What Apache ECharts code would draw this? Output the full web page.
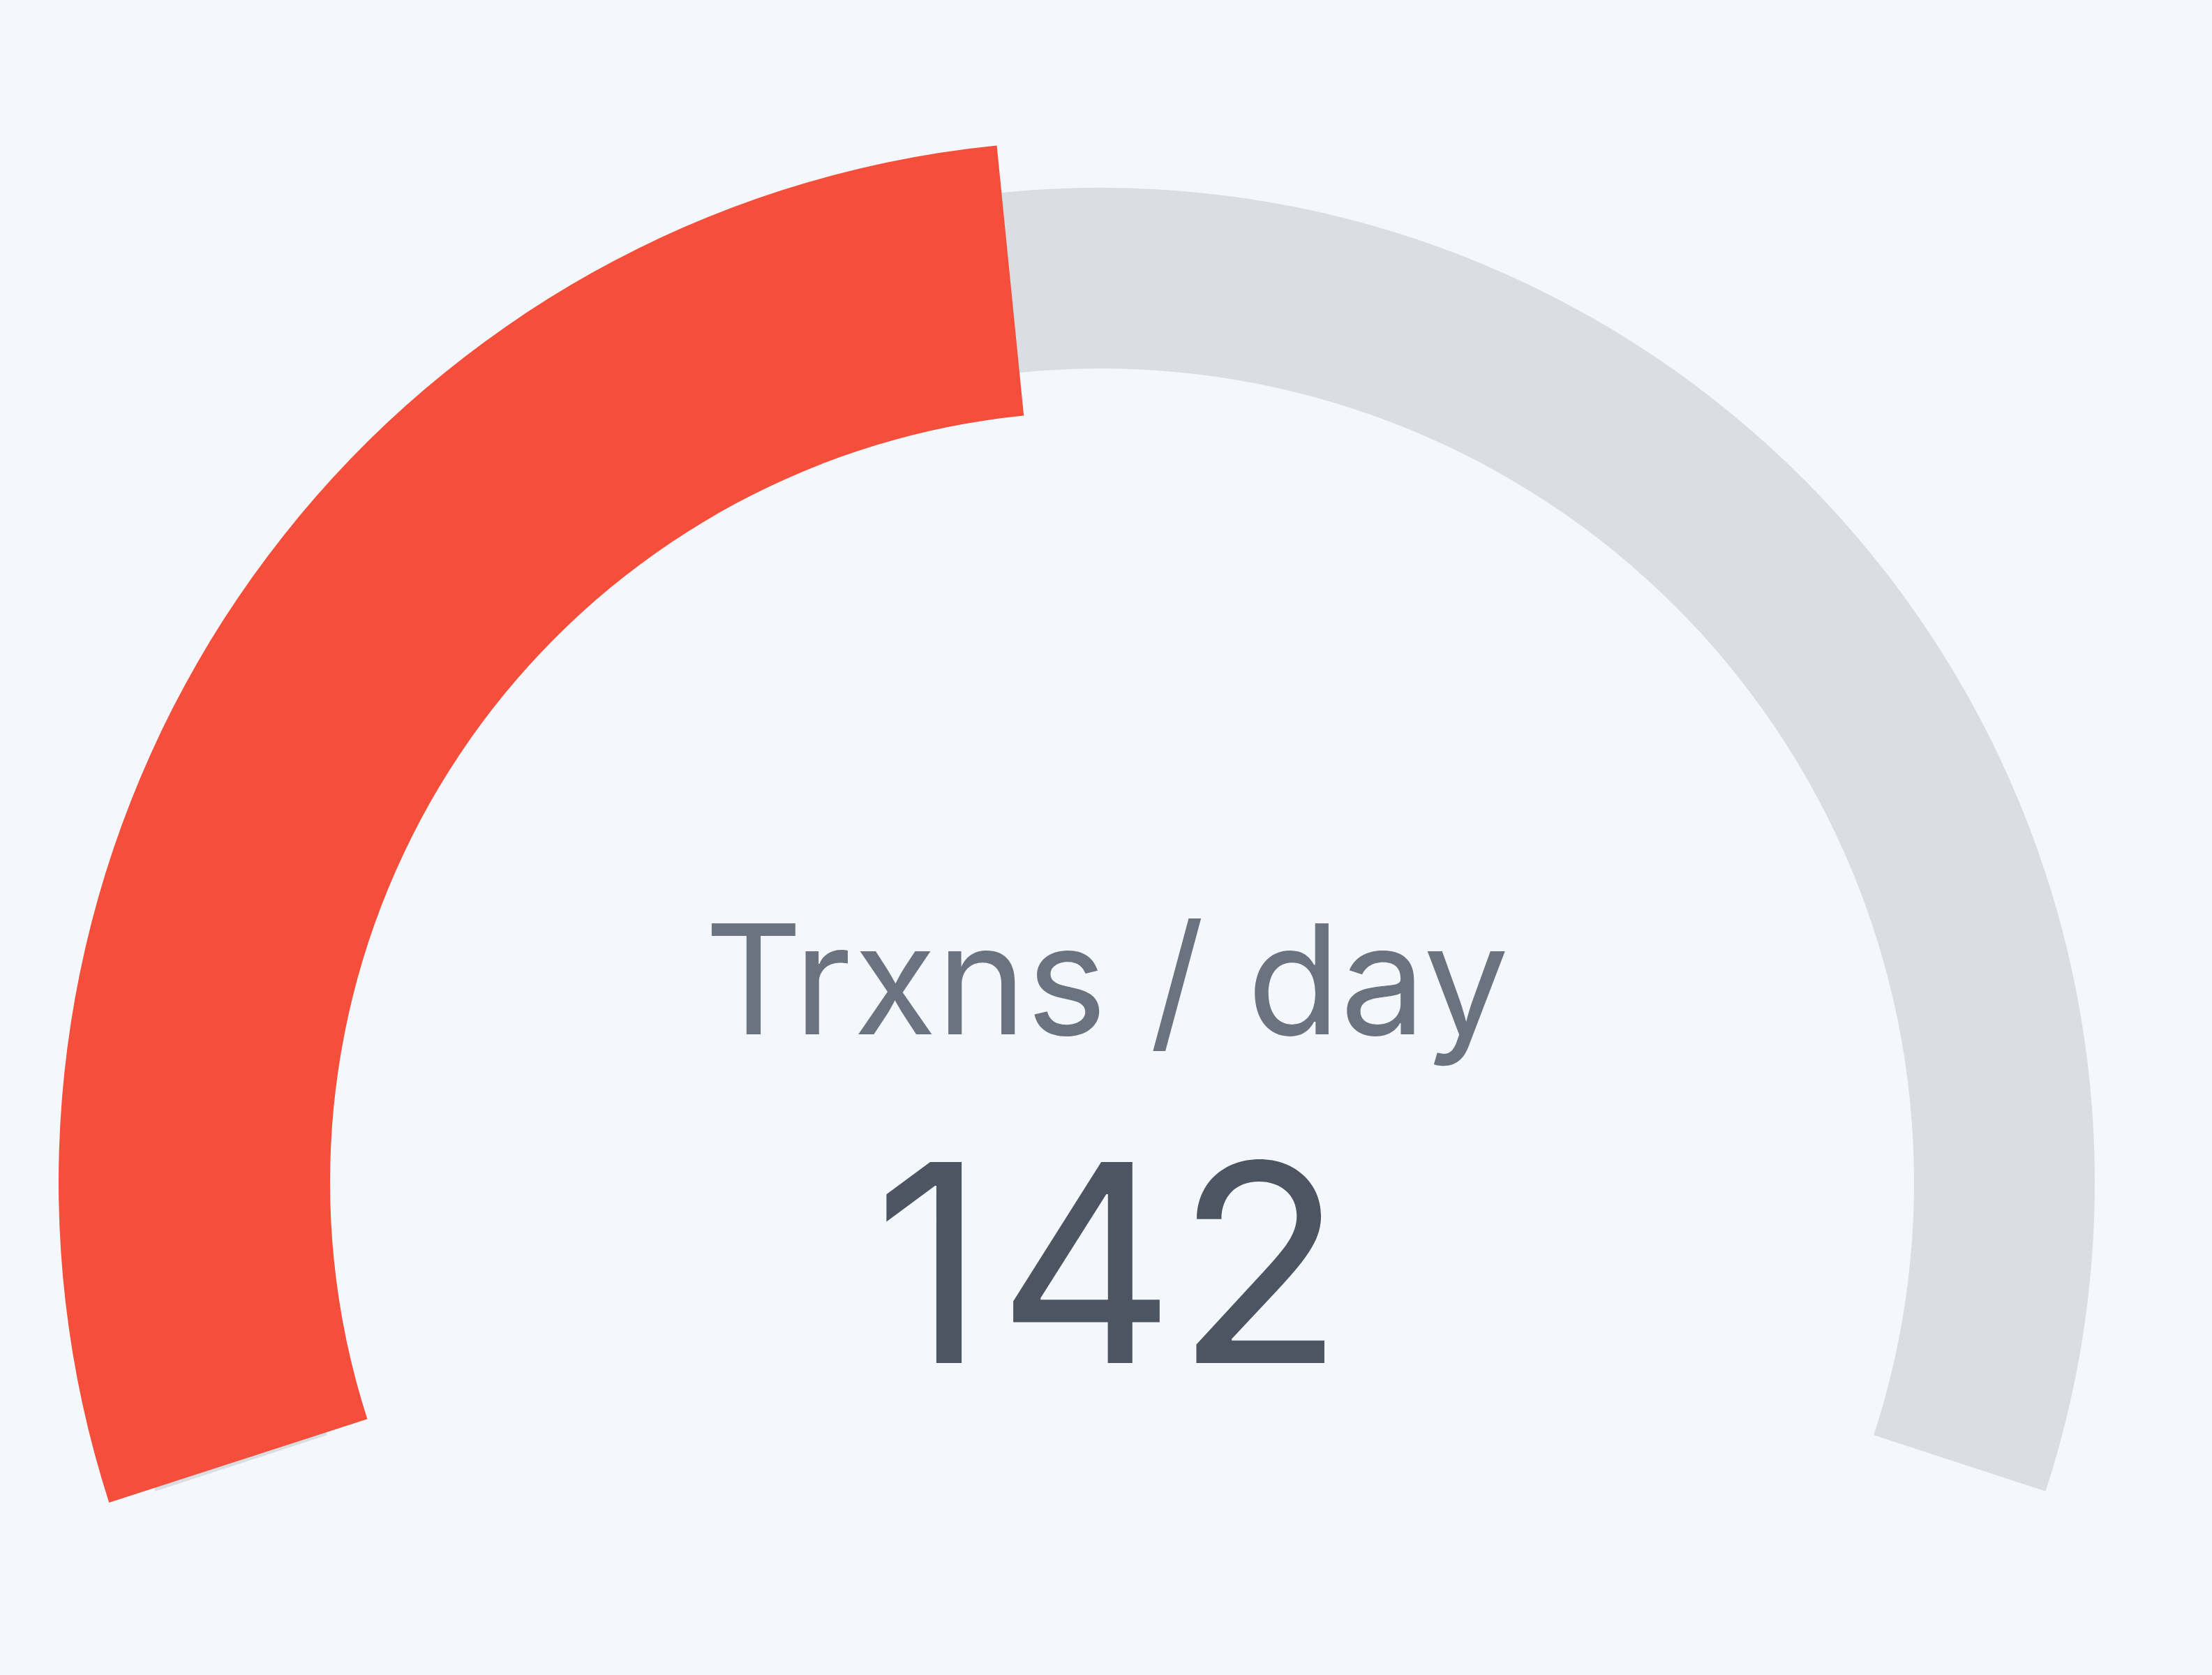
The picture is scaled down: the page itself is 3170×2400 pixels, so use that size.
<!DOCTYPE html>
<html>
<head>
<meta charset="utf-8">
<script src="https://cdn.jsdelivr.net/npm/echarts@6/dist/echarts.min.js"></script>
<style>
  html, body { margin: 0; padding: 0; background: #f4f8fc; }
  #chart { width: 3170px; height: 2400px; }
</style>
</head>
<body>
<div id="chart"></div>
<script>
// gauge data
var metricNames = ['Trxns / day'];
var metricValues = [142];
var scaleMin = 0;
var scaleMax = 300;

var chart = echarts.init(document.getElementById('chart'));

var gaugeData = metricNames.map(function (n, i) {
    return { name: n, value: metricValues[i] };
});

var digitStyle = {
    color: '#4e5562',
    fontFamily: 'Inter',
    fontSize: 396
};

var option = {
    backgroundColor: '#f4f8fc',
    animation: false,
    series: [{
        // grey track
        type: 'gauge',
        center: [1577, 1694],
        radius: 1425,
        startAngle: 198.1,
        endAngle: -18.1,
        min: scaleMin,
        max: scaleMax,
        axisLine: {
            lineStyle: { width: 259, color: [[1, '#dadde2']] }
        },
        axisTick: { show: false },
        splitLine: { show: false },
        axisLabel: { show: false },
        pointer: { show: false },
        anchor: { show: false },
        title: { show: false },
        detail: { show: false },
        data: []
    }, {
        // red progress + texts
        type: 'gauge',
        center: [1577, 1694],
        radius: 1493,
        startAngle: 197.9,
        endAngle: -18,
        min: scaleMin,
        max: scaleMax,
        axisLine: { show: false },
        progress: {
            show: true,
            width: 389,
            roundCap: false,
            itemStyle: { color: '#f54f3b' }
        },
        axisTick: { show: false },
        splitLine: { show: false },
        axisLabel: { show: false },
        pointer: { show: false },
        anchor: { show: false },
        title: {
            show: true,
            offsetCenter: [9, -278],
            color: '#6b7280',
            fontFamily: 'Inter',
            fontSize: 218
        },
        detail: {
            show: true,
            offsetCenter: [12, 140],
            color: digitStyle.color,
            fontFamily: digitStyle.fontFamily,
            fontSize: digitStyle.fontSize,
            fontWeight: 'normal',
            // tabular-looking figures: give the narrow "1" a wider advance
            formatter: function (v) {
                return String(v).split('').map(function (c) {
                    return c === '1' ? '{one|1}' : '{num|' + c + '}';
                }).join('');
            },
            rich: {
                one: Object.assign({ padding: [0, 16, 0, 0] }, digitStyle),
                num: Object.assign({}, digitStyle)
            }
        },
        data: gaugeData
    }]
};
chart.setOption(option);
</script>
</body>
</html>
